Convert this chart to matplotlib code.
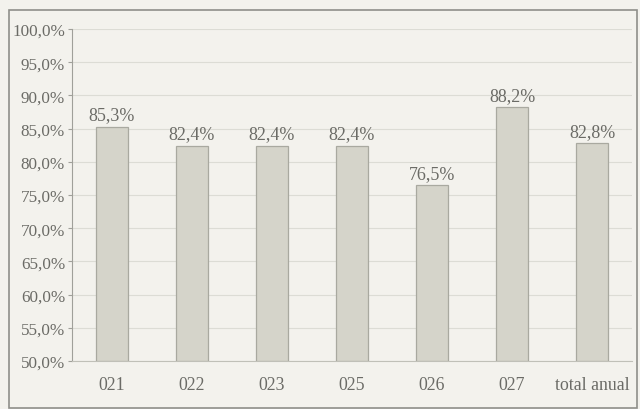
import matplotlib
matplotlib.use("Agg")
import matplotlib.pyplot as plt
from matplotlib.patches import Rectangle

categories = ["021", "022", "023", "025", "026", "027", "total anual"]
values = [85.3, 82.4, 82.4, 82.4, 76.5, 88.2, 82.8]
value_labels = ["85,3%", "82,4%", "82,4%", "82,4%", "76,5%", "88,2%", "82,8%"]
yticks = [50, 55, 60, 65, 70, 75, 80, 85, 90, 95, 100]
ytick_labels = ["50,0%", "55,0%", "60,0%", "65,0%", "70,0%", "75,0%", "80,0%",
                "85,0%", "90,0%", "95,0%", "100,0%"]

plt.rcParams['font.family'] = ['Liberation Serif', 'DejaVu Serif']
bg = "#f3f2ed"
txt = "#6b6b66"

fig = plt.figure(figsize=(6.4, 4.1), dpi=100, facecolor=bg)
fig.patches.append(Rectangle((9/640, 1 - 409/410), 628/640, 398/410,
                             transform=fig.transFigure, fill=False,
                             edgecolor="#8f8f8a", linewidth=1.2))
ax = fig.add_axes([72/640, 48/410, 560/640, 332/410])
ax.set_facecolor(bg)

x = range(len(categories))
ax.bar(x, [v - 50 for v in values], bottom=50, width=0.4, color="#d5d4ca",
       edgecolor="#a9a9a0", linewidth=0.9, zorder=3)
for i, (v, lab) in enumerate(zip(values, value_labels)):
    ax.text(i, v + 0.5, lab, ha="center", va="bottom", fontsize=13, color=txt)

ax.set_xlim(-0.5, len(categories) - 0.5)
ax.set_ylim(50, 100)
ax.set_yticks(yticks)
ax.set_yticklabels(ytick_labels, fontsize=12.3, color=txt)
ax.set_xticks(list(x))
ax.set_xticklabels(categories, fontsize=12.8, color=txt)
ax.tick_params(axis="x", length=0, pad=11)
ax.tick_params(axis="y", length=3, color="#a0a09a", pad=2)
ax.grid(axis="y", color="#dcdcd5", linewidth=0.8, zorder=0)
for s in ["top", "right"]:
    ax.spines[s].set_visible(False)
ax.spines["left"].set_color("#a0a09a")
ax.spines["bottom"].set_color("#c0c0b8")

fig.savefig("out.png", dpi=100, facecolor=bg)
